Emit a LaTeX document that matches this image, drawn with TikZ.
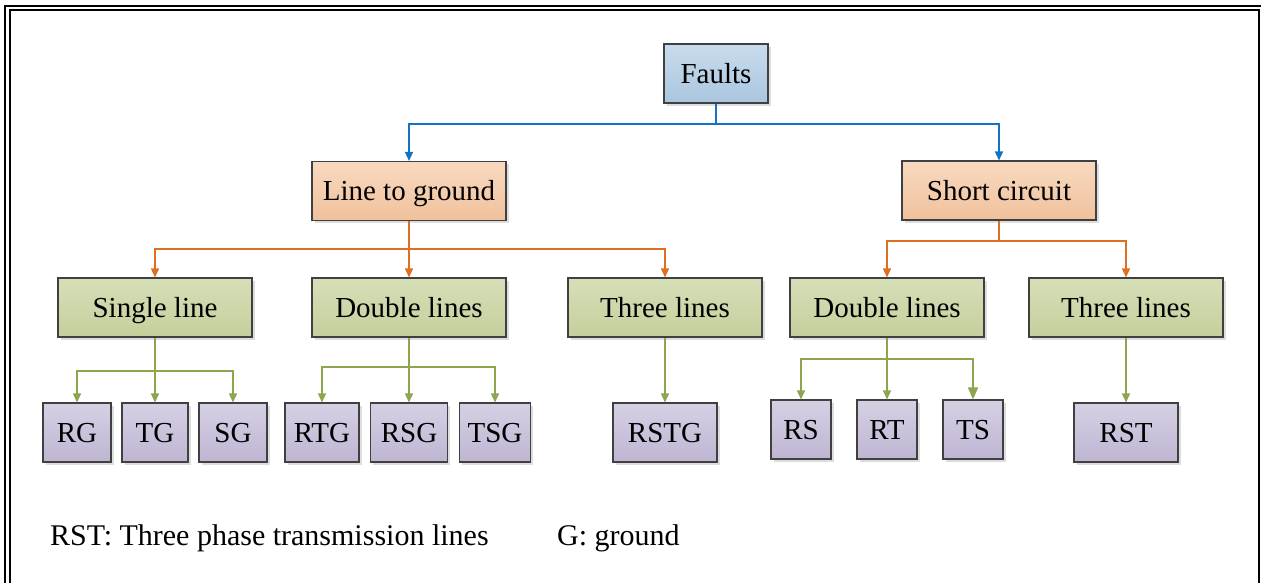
\documentclass[tikz,border=0pt]{standalone}
\usepackage{fontspec}
\setmainfont{Liberation Serif}
\usetikzlibrary{arrows.meta,shadows}

\definecolor{edgegray}{HTML}{404040}
\definecolor{blueA}{HTML}{C9DBEC}
\definecolor{blueB}{HTML}{AAC6DF}
\definecolor{orgA}{HTML}{F8DAC0}
\definecolor{orgB}{HTML}{F0C19C}
\definecolor{grnA}{HTML}{D7DFB8}
\definecolor{grnB}{HTML}{C4CF9C}
\definecolor{purA}{HTML}{D6D0E4}
\definecolor{purB}{HTML}{BFB5D3}
\definecolor{lineblue}{HTML}{1273C4}
\definecolor{lineorange}{HTML}{DE6F20}
\definecolor{linegreen}{HTML}{8DA54E}

\tikzset{
  box/.style={draw=edgegray, line width=1.1pt, inner sep=0pt, anchor=center,
    font=\fontsize{29}{34}\selectfont, text height=25pt, text depth=5.8pt,
    drop shadow={shadow xshift=2.5pt, shadow yshift=-2.5pt, fill=black!22, opacity=0.6}},
  rootbox/.style={box, top color=blueA, bottom color=blueB, minimum width=104pt, minimum height=59pt},
  midbox/.style={box, top color=orgA, bottom color=orgB, minimum width=194pt, minimum height=59pt},
  catbox/.style={box, top color=grnA, bottom color=grnB, minimum width=194pt, minimum height=59pt},
  leafbox/.style={box, top color=purA, bottom color=purB, minimum height=59pt},
  link/.style={line width=1.5pt, -{Triangle[width=8pt,length=9pt]}},
  bluelink/.style={link, draw=lineblue},
  orangelink/.style={link, draw=lineorange},
  greenlink/.style={link, draw=linegreen},
  frameline/.style={line width=2pt, black},
  note/.style={anchor=base west, inner sep=0pt, font=\fontsize{30}{35}\selectfont}
}

\begin{document}
\begin{tikzpicture}[x=1pt, y=-1pt]
\useasboundingbox (0,0) rectangle (1261,582);

% page frame (double rule on the top and left)
\begin{scope}
\clip (0,0) rectangle (1261,582);
\draw[frameline] (5,590) -- (5,5.8) -- (1270,5.8);
\draw[frameline] (10.2,590) -- (10.2,10.3) -- (1258.8,10.3) -- (1258.8,590);
\end{scope}

% top level
\node[rootbox] (faults) at (716,73.5) {Faults};

% fault types
\node[midbox] (ltg) at (409,191) {Line to ground};
\node[midbox] (sc)  at (999,190.5) {Short circuit};

% number of lines involved
\node[catbox] (single) at (155,307.5) {Single line};
\node[catbox] (dblA)   at (409,307.5) {Double lines};
\node[catbox] (triA)   at (665,307.5) {Three lines};
\node[catbox] (dblB)   at (887,307.5) {Double lines};
\node[catbox] (triB)   at (1126,307.5) {Three lines};

% individual fault cases
\node[leafbox, minimum width=68pt] (rg)  at (77,432.5)  {RG};
\node[leafbox, minimum width=66pt] (tg)  at (155,432.5) {TG};
\node[leafbox, minimum width=68pt] (sg)  at (233,432.5) {SG};
\node[leafbox, minimum width=74pt] (rtg) at (322,432.5) {RTG};
\node[leafbox, minimum width=77pt] (rsg) at (409,432.5) {RSG};
\node[leafbox, minimum width=71pt] (tsg) at (495,432.5) {TSG};
\node[leafbox, minimum width=104pt] (rstg) at (665,432.5) {RSTG};
\node[leafbox, minimum width=60pt] (rs) at (801,429.5) {RS};
\node[leafbox, minimum width=60pt] (rt) at (887,429.5) {RT};
\node[leafbox, minimum width=60pt] (ts) at (973,429.5) {TS};
\node[leafbox, minimum width=104pt] (rst) at (1126,432.5) {RST};

% bus levels of the connectors
\coordinate (busF)  at (0,124);
\coordinate (busL)  at (0,249);
\coordinate (busS)  at (0,241);
\coordinate (busSL) at (0,371);
\coordinate (busDA) at (0,367);
\coordinate (busDB) at (0,359);

% connectors
\draw[bluelink] (faults.south) -- (faults.south |- busF) -| (ltg.north);
\draw[bluelink] (faults.south) -- (faults.south |- busF) -| (sc.north);

\draw[orangelink] (ltg.south) -- (ltg.south |- busL) -| (single.north);
\draw[orangelink] (ltg.south) -- (dblA.north);
\draw[orangelink] (ltg.south) -- (ltg.south |- busL) -| (triA.north);
\draw[orangelink] (sc.south) -- (sc.south |- busS) -| (dblB.north);
\draw[orangelink] (sc.south) -- (sc.south |- busS) -| (triB.north);

\draw[greenlink] (single.south) -- (single.south |- busSL) -| (rg.north);
\draw[greenlink] (single.south) -- (tg.north);
\draw[greenlink] (single.south) -- (single.south |- busSL) -| (sg.north);

\draw[greenlink] (dblA.south) -- (dblA.south |- busDA) -| (rtg.north);
\draw[greenlink] (dblA.south) -- (rsg.north);
\draw[greenlink] (dblA.south) -- (dblA.south |- busDA) -| (tsg.north);

\draw[greenlink] (triA.south) -- (rstg.north);

\draw[greenlink] (dblB.south) -- (dblB.south |- busDB) -| (rs.north);
\draw[greenlink] (dblB.south) -- (rt.north);
\draw[greenlink, -{Triangle[width=10pt,length=12pt]}] (dblB.south) -- (dblB.south |- busDB) -| (ts.north);

\draw[greenlink] (triB.south) -- (rst.north);

% legend
\node[note] (legendA) at (50,545) {RST: Three phase transmission lines};
\node[note] (legendB) at (557,545) {G: ground};
\end{tikzpicture}
\end{document}
